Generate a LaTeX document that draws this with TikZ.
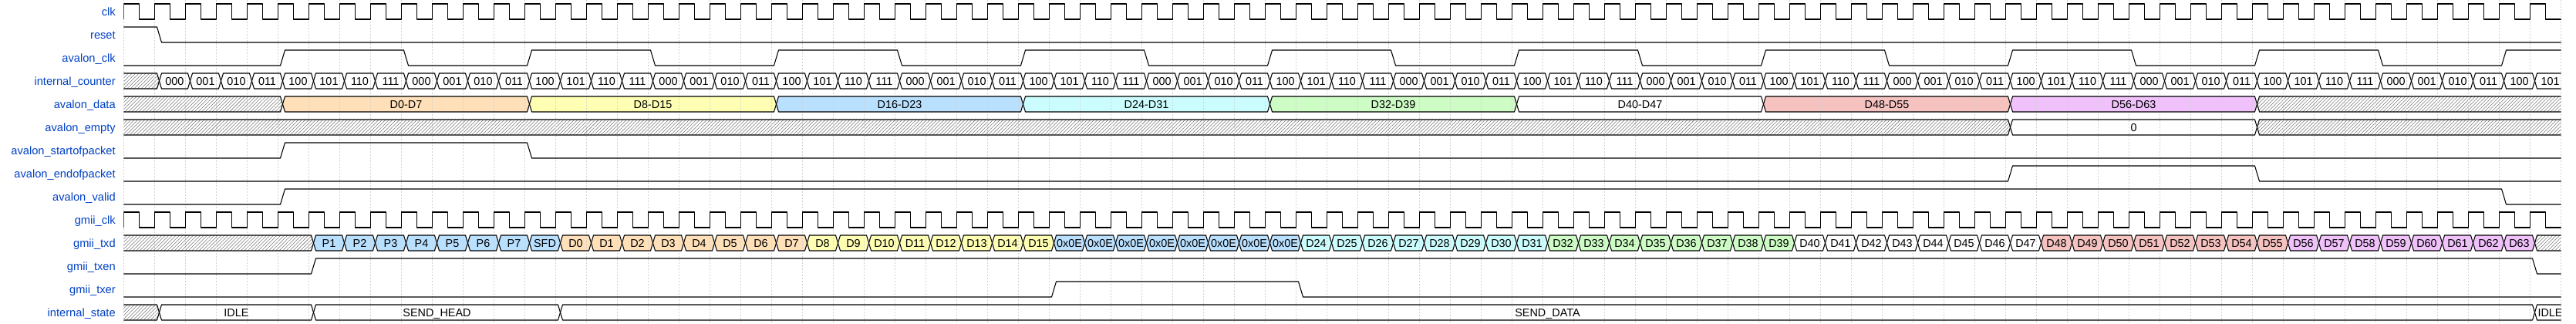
\documentclass[tikz,border=0pt]{standalone}
\usepackage{fontspec}
\setmainfont{Liberation Sans}
\usetikzlibrary{patterns.meta}

\definecolor{wlabel}{HTML}{0041C4}
\definecolor{wblue}{HTML}{B9E0FF}
\definecolor{wyellow}{HTML}{FFFFB4}
\definecolor{worange}{HTML}{FFE0B9}
\definecolor{wcyan}{HTML}{CCFDFE}
\definecolor{wgreen}{HTML}{CDFDC5}
\definecolor{wred}{HTML}{F5C2C0}
\definecolor{wpurple}{HTML}{F0C1FB}

\pgfdeclarelayer{fills}
\pgfsetlayers{fills,main}

\tikzset{
  wave/.style={line width=0.8pt, line join=bevel},
  hatch/.style={pattern={Lines[angle=45,distance=2.4pt,line width=0.4pt]}, pattern color=black!55},
  gridline/.style={black!18, line width=0.6pt, dash pattern=on 1.5pt off 1.5pt},
  siglabel/.style={anchor=base east, inner sep=0pt, text=wlabel, font=\fontsize{11pt}{13pt}\selectfont},
  busval/.style={anchor=base, inner sep=0pt, font=\fontsize{10.8pt}{13pt}\selectfont},
}

% bus segment shape: row, from, to, fill
\newcommand{\segshape}[4]{%
  \begin{pgfonlayer}{fills}
    \begin{scope}
      \clip (0,0) rectangle (79,420);
      \fill[#4] (#2+0.15,30*#1+15) -- (#2+0.225,30*#1+5) -- (#3+0.075,30*#1+5) -- (#3+0.15,30*#1+15)
        -- (#3+0.075,30*#1+25) -- (#2+0.225,30*#1+25) -- cycle;
    \end{scope}
  \end{pgfonlayer}
  \draw[wave] (#2+0.15,30*#1+15) -- (#2+0.225,30*#1+5) -- (#3+0.075,30*#1+5) -- (#3+0.15,30*#1+15)
    -- (#3+0.075,30*#1+25) -- (#2+0.225,30*#1+25) -- cycle;
}
% bus segment with value: row, from, to, fill, text
\newcommand{\busseg}[5]{%
  \segshape{#1}{#2}{#3}{#4}%
  \pgfmathtruncatemacro\segx{#2}%
  \node[busval] (v#1-\segx) at ({(#2+#3)/2+0.15},30*#1+20.5) {#5};
}
\newcommand{\hatchseg}[3]{\segshape{#1}{#2}{#3}{hatch}}
\newcommand{\cntbits}[1]{\ifcase#1 000\or 001\or 010\or 011\or 100\or 101\or 110\or 111\fi}

\begin{document}
\begin{tikzpicture}[x=30pt, y=-0.75pt]
  \useasboundingbox (-4.0125,0) rectangle (79.4875,420);
  % Rejilla
  \foreach \c in {0,...,79} {\draw[gridline] (\c,0) -- (\c,420);}
  % Nombres de las senales
  \foreach \s [count=\r from 0] in {clk,reset,avalon\_clk,internal\_counter,avalon\_data,avalon\_empty,
      avalon\_startofpacket,avalon\_endofpacket,avalon\_valid,gmii\_clk,gmii\_txd,gmii\_txen,gmii\_txer,internal\_state} {
    \node[siglabel] (name\r) at (-0.2625,30*\r+20.5) {\s};
  }
  \begin{scope}
    \clip (0,0) rectangle (79,420);
    % Relojes clk y gmii_clk
    \foreach \r in {0,9} {
      \draw[wave] (0,30*\r+25) \foreach \c in {0,...,78} { -- (\c,30*\r+5) -- (\c+0.5,30*\r+5) -- (\c+0.5,30*\r+25) -- (\c+1,30*\r+25) };
    }
    % reset
    \draw[wave] (0,35) -- (1.075,35) -- (1.225,55) -- (79,55);
    % avalon_clk
    \draw[wave] (0,85) \foreach \k in {0,...,9} { -- (5.075+8*\k,85) -- (5.225+8*\k,65) -- (9.075+8*\k,65) -- (9.225+8*\k,85) };
    % internal_counter
    \hatchseg{3}{-1}{1}
    \foreach \c in {1,...,78} {
      \pgfmathtruncatemacro\m{mod(\c-1,8)}
      \busseg{3}{\c}{\c+1}{fill=white}{\cntbits{\m}}
    }
    % avalon_data
    \hatchseg{4}{-1}{5}
    \foreach \k/\col in {0/worange,1/wyellow,2/wblue,3/wcyan,4/wgreen,5/white,6/wred,7/wpurple} {
      \pgfmathtruncatemacro\lo{8*\k}
      \pgfmathtruncatemacro\hi{8*\k+7}
      \busseg{4}{5+8*\k}{13+8*\k}{fill=\col}{D\lo-D\hi}
    }
    \hatchseg{4}{69}{79}
    % avalon_empty
    \hatchseg{5}{-1}{61}
    \busseg{5}{61}{69}{fill=white}{0}
    \hatchseg{5}{69}{79}
    % avalon_startofpacket
    \draw[wave] (0,205) -- (5.075,205) -- (5.225,185) -- (13.075,185) -- (13.225,205) -- (79,205);
    % avalon_endofpacket
    \draw[wave] (0,235) -- (61.075,235) -- (61.225,215) -- (69.075,215) -- (69.225,235) -- (79,235);
    % avalon_valid
    \draw[wave] (0,265) -- (5.075,265) -- (5.225,245) -- (77.075,245) -- (77.225,265) -- (79,265);
    % gmii_txd
    \hatchseg{10}{-1}{6}
    \foreach \t [count=\i from 6] in {P1,P2,P3,P4,P5,P6,P7,SFD} {
      \busseg{10}{\i}{\i+1}{fill=wblue}{\t}
    }
    \foreach \k in {0,...,7} {\busseg{10}{14+\k}{15+\k}{fill=worange}{D\k}}
    \foreach \k in {8,...,15} {\busseg{10}{14+\k}{15+\k}{fill=wyellow}{D\k}}
    \foreach \k in {30,...,37} {\busseg{10}{\k}{\k+1}{fill=wblue}{0x0E}}
    \foreach \k/\col in {24/wcyan,32/wgreen,40/white,48/wred,56/wpurple} {
      \foreach \j in {0,...,7} {
        \pgfmathtruncatemacro\n{\k+\j}
        \busseg{10}{\k+14+\j}{\k+15+\j}{fill=\col}{D\n}
      }
    }
    \hatchseg{10}{78}{79}
    % gmii_txen
    \draw[wave] (0,355) -- (6.075,355) -- (6.225,335) -- (78.075,335) -- (78.225,355) -- (79,355);
    % gmii_txer
    \draw[wave] (0,385) -- (30.075,385) -- (30.225,365) -- (38.075,365) -- (38.225,385) -- (79,385);
    % internal_state
    \hatchseg{13}{-1}{1}
    \busseg{13}{1}{6}{fill=white}{IDLE}
    \busseg{13}{6}{14}{fill=white}{SEND\_HEAD}
    \busseg{13}{14}{78}{fill=white}{SEND\_DATA}
    \busseg{13}{78}{79}{fill=white}{IDLE}
  \end{scope}
\end{tikzpicture}
\end{document}
